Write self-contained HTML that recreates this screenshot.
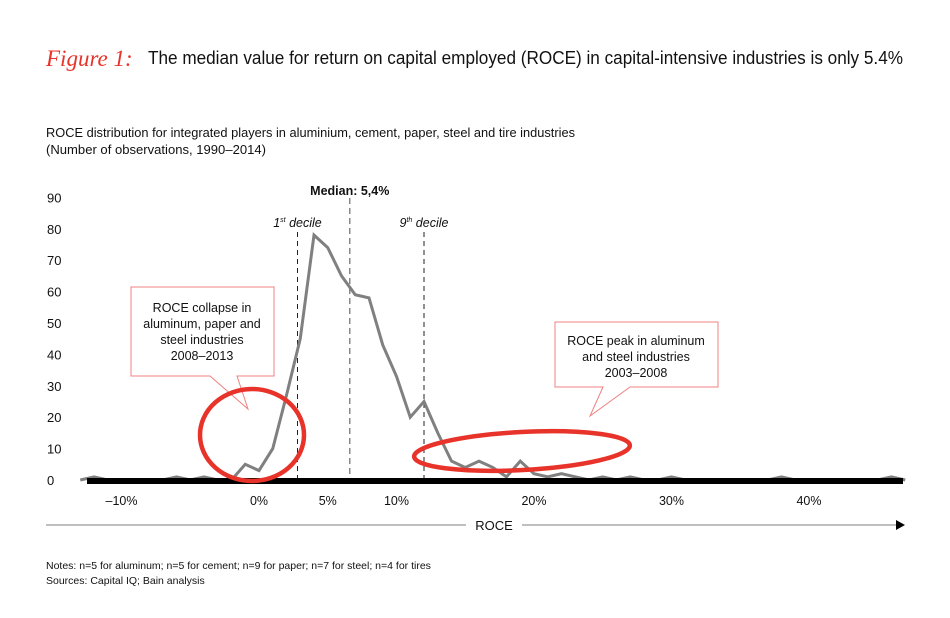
<!DOCTYPE html>
<html><head><meta charset="utf-8"><style>
html,body{margin:0;padding:0;background:#fff;}
svg{display:block;font-family:"Liberation Sans",sans-serif;}
</style></head><body>
<svg width="950" height="618" viewBox="0 0 950 618">
<text x="46" y="66" font-family="Liberation Serif" font-style="italic" font-size="23" fill="#e8332a">Figure 1:</text>
<text x="148" y="64" font-size="18" fill="#111" textLength="755" lengthAdjust="spacingAndGlyphs">The median value for return on capital employed (ROCE) in capital-intensive industries is only 5.4%</text>
<text x="46" y="137" font-size="12.5" fill="#111" textLength="529" lengthAdjust="spacingAndGlyphs">ROCE distribution for integrated players in aluminium, cement, paper, steel and tire industries</text>
<text x="46" y="154" font-size="12.5" fill="#111" textLength="220" lengthAdjust="spacingAndGlyphs">(Number of observations, 1990–2014)</text>
<g id="yaxis"></g>
<g id="xaxis"></g>
<g id="refs"></g>
<g id="series"></g>
<line x1="87" y1="481" x2="903" y2="481" stroke="#000" stroke-width="6"/>
<g>
<line x1="46" y1="525" x2="466" y2="525" stroke="#999" stroke-width="1.2"/>
<line x1="522" y1="525" x2="898" y2="525" stroke="#999" stroke-width="1.2"/>
<polygon points="896,520 905,525 896,530" fill="#000"/>
<text x="494" y="530" font-size="13" text-anchor="middle" fill="#111">ROCE</text>
</g>
<g>
<polygon points="131,287 274,287 274,376 237,376 248,409 210,376 131,376" fill="#fff" stroke="#f08080" stroke-width="1"/>
<text font-size="12.5" text-anchor="middle" fill="#111"><tspan x="202" y="312">ROCE collapse in</tspan><tspan x="202" y="328">aluminum, paper and</tspan><tspan x="202" y="344">steel industries</tspan><tspan x="202" y="360">2008–2013</tspan></text>
</g>
<g>
<polygon points="555,322 718,322 718,387 630,387 590,416 603,387 555,387" fill="#fff" stroke="#f08080" stroke-width="1"/>
<text font-size="12.5" text-anchor="middle" fill="#111"><tspan x="636" y="345">ROCE peak in aluminum</tspan><tspan x="636" y="361">and steel industries</tspan><tspan x="636" y="377">2003–2008</tspan></text>
</g>
<ellipse cx="252" cy="435" rx="52" ry="46" fill="none" stroke="#e8332a" stroke-width="4.5"/>
<ellipse cx="522" cy="451" rx="108" ry="19" transform="rotate(-3 522 451)" fill="none" stroke="#e8332a" stroke-width="4.5"/>
<text x="46" y="569" font-size="10.5" fill="#111">Notes: n=5 for aluminum; n=5 for cement; n=9 for paper; n=7 for steel; n=4 for tires</text>
<text x="46" y="584" font-size="10.5" fill="#111">Sources: Capital IQ; Bain analysis</text>
</svg>
<script>
const roceBins=[-13,-12,-11,-10,-9,-8,-7,-6,-5,-4,-3,-2,-1,0,1,2,3,4,5,6,7,8,9,10,11,12,13,14,15,16,17,18,19,20,21,22,23,24,25,26,27,28,29,30,31,32,33,34,35,36,37,38,39,40,41,42,43,44,45,46,47];
const observations=[0,1,0,0,0,0,0,1,0,1,0,0,5,3,10,27,45,78,74,65,59,58,43,33,20,25,15,6,4,6,4,1,6,2,1,2,1,0,1,0,1,0,0,1,0,0,0,0,0,0,0,1,0,0,0,0,0,0,0,1,0];
const yTicks=[0,10,20,30,40,50,60,70,80,90];
const xTicks=[-10,0,5,10,20,30,40];
const xTickLabels=["–10%","0%","5%","10%","20%","30%","40%"];
const decile1=2.8, median=6.6, decile9=12;
const NS="http://www.w3.org/2000/svg";
const xs=v=>259+v*13.75;
const ys=v=>480-v*3.14;
function mk(t,a,p){const e=document.createElementNS(NS,t);for(const k in a)e.setAttribute(k,a[k]);p.appendChild(e);return e;}
const ya=document.getElementById('yaxis');
yTicks.forEach(t=>{const e=mk('text',{x:47,y:ys(t)+5,'font-size':13,fill:'#111'},ya);e.textContent=t;

});
const xa=document.getElementById('xaxis');
xTicks.forEach((t,i)=>{const e=mk('text',{x:xs(t),y:505,'font-size':12.5,'text-anchor':'middle',fill:'#111'},xa);e.textContent=xTickLabels[i];

});
const rf=document.getElementById('refs');
const l1=mk('line',{x1:xs(decile1),y1:232,x2:xs(decile1),y2:480,stroke:'#222','stroke-dasharray':'5,4','stroke-width':1},rf);


const l2=mk('line',{x1:xs(median),y1:198,x2:xs(median),y2:480,stroke:'#888','stroke-dasharray':'6,4','stroke-width':1.5},rf);


const l3=mk('line',{x1:xs(decile9),y1:232,x2:xs(decile9),y2:480,stroke:'#222','stroke-dasharray':'5,4','stroke-width':1},rf);


const t1=mk('text',{x:xs(decile1),y:227,'font-size':12.5,'font-style':'italic','text-anchor':'middle',fill:'#111'},rf);
t1.innerHTML='1<tspan font-size="7" dy="-5">st</tspan><tspan dy="5"> decile</tspan>';


const t2=mk('text',{x:xs(median),y:195,'font-size':12.5,'font-weight':'bold','text-anchor':'middle',fill:'#111'},rf);
t2.textContent='Median: 5,4%';


const t3=mk('text',{x:xs(decile9),y:227,'font-size':12.5,'font-style':'italic','text-anchor':'middle',fill:'#111'},rf);
t3.innerHTML='9<tspan font-size="7" dy="-5">th</tspan><tspan dy="5"> decile</tspan>';


const sg=document.getElementById('series');
const pts=roceBins.map((b,i)=>xs(b)+','+ys(observations[i])).join(' ');
const pl=mk('polyline',{points:pts,fill:'none',stroke:'#808080','stroke-width':3,'stroke-linejoin':'miter'},sg);


</script>
</body></html>
